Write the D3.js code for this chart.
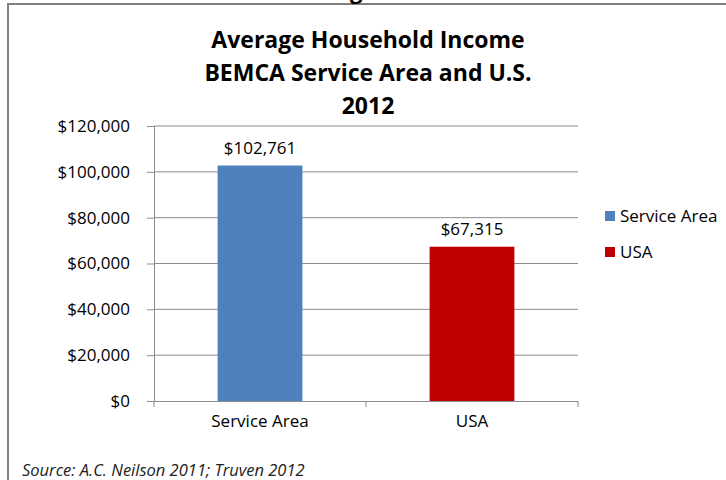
<!DOCTYPE html>
<html>
<head>
<meta charset="utf-8">
<script src="https://cdn.jsdelivr.net/npm/d3@7"></script>
<style>
  body { margin: 0; background: #fff; }
  svg { display: block; font-family: "Open Sans", sans-serif; }
</style>
</head>
<body>
<div id="plot"></div>
<script>
// chart values
const categories = ["Service Area", "USA"];
const incomes = [102761, 67315];
const barColors = ["#4F81BD", "#C00000"];
const yTicks = [0, 20000, 40000, 60000, 80000, 100000, 120000];
const titleLines = ["Average Household Income", "BEMCA Service Area and U.S.", "2012"];
const sourceNote = "Source: A.C. Neilson 2011; Truven 2012";

const W = 726, H = 480;
const margin = { top: 126, right: 148, bottom: 79, left: 154 },
      width = W - margin.left - margin.right,
      height = H - margin.top - margin.bottom;
const fontFam = "'Open Sans', sans-serif";

const svg = d3.select("div#plot")
              .append("svg")
              .attr("width", W)
              .attr("height", H);

// frame of the surrounding box
svg.append("path")
   .attr("d", `M8,${H} L8,4 L${W},4`)
   .attr("fill", "none")
   .attr("stroke", "#7f7f7f")
   .attr("stroke-width", 2);

// cut-off text above the box (only the descender shows)
svg.append("text")
   .attr("x", 350)
   .attr("y", -1)
   .style("font-size", "22px")
   .style("font-weight", "bold")
   .text("g");

// title
svg.selectAll(".title")
   .data(titleLines)
   .enter()
   .append("text")
   .attr("class", "title")
   .attr("x", 368)
   .attr("y", (d, i) => 48 + i * 33)
   .attr("text-anchor", "middle")
   .style("font-size", "23px")
   .style("font-weight", "bold")
   .text(d => d);

const g = svg.append("g")
             .attr("transform", `translate(${margin.left},${margin.top})`);

const xScale = d3.scaleBand().domain(categories).range([0, width]).padding(0);
const yScale = d3.scaleLinear().domain([0, 120000]).range([height, 0]);

// gridlines
g.selectAll(".grid")
 .data(yTicks.filter(t => t > 0))
 .enter()
 .append("line")
 .attr("x1", 0)
 .attr("x2", width)
 .attr("y1", d => yScale(d))
 .attr("y2", d => yScale(d))
 .attr("stroke", "#8c8c8c")
 .attr("stroke-width", 1);

// y axis
const yAxis = g.append("g")
  .call(d3.axisLeft(yScale).tickValues(yTicks).tickSize(7).tickPadding(17)
          .tickFormat(d => "$" + d3.format(",")(d)));
yAxis.attr("font-family", fontFam);
yAxis.select(".domain").attr("stroke", "#8c8c8c");
yAxis.selectAll(".tick line").attr("stroke", "#8c8c8c");
yAxis.selectAll("text").style("font-size", "17px").attr("fill", "#000");

// x axis
const xAxis = g.append("g")
  .attr("transform", `translate(0,${height})`)
  .call(d3.axisBottom(xScale).tickSize(0).tickPadding(14));
xAxis.attr("font-family", fontFam);
xAxis.select(".domain").attr("stroke", "#8c8c8c");
xAxis.selectAll("text").style("font-size", "17px").attr("fill", "#000");
xAxis.selectAll(".bound")
     .data([0, width / 2, width])
     .enter()
     .append("line")
     .attr("class", "bound")
     .attr("x1", d => d).attr("x2", d => d)
     .attr("y1", 0).attr("y2", 6)
     .attr("stroke", "#8c8c8c");

// bars
const barW = xScale.bandwidth() * 0.4;
g.selectAll(".bar")
 .data(incomes)
 .enter()
 .append("rect")
 .attr("class", "bar")
 .attr("x", (d, i) => xScale(categories[i]) + (xScale.bandwidth() - barW) / 2)
 .attr("y", d => yScale(d))
 .attr("width", barW)
 .attr("height", d => height - yScale(d))
 .attr("fill", (d, i) => barColors[i]);

// data labels
g.selectAll(".lbl")
 .data(incomes)
 .enter()
 .append("text")
 .attr("class", "lbl")
 .attr("x", (d, i) => xScale(categories[i]) + xScale.bandwidth() / 2)
 .attr("y", d => yScale(d) - 12)
 .attr("text-anchor", "middle")
 .style("font-size", "17px")
 .text(d => "$" + d3.format(",")(d));

// legend
const legend = svg.append("g")
                  .attr("transform", "translate(605,211)");
legend.selectAll("rect")
      .data(categories)
      .enter()
      .append("rect")
      .attr("x", 0)
      .attr("y", (d, i) => i * 36)
      .attr("width", 10)
      .attr("height", 10)
      .attr("fill", (d, i) => barColors[i]);
legend.selectAll("text")
      .data(categories)
      .enter()
      .append("text")
      .attr("x", 15)
      .attr("y", (d, i) => i * 36 + 5)
      .attr("dy", "0.35em")
      .style("font-size", "17px")
      .text(d => d);

// source note
svg.append("text")
   .attr("x", 22)
   .attr("y", 476)
   .style("font-size", "16.5px")
   .style("font-style", "italic")
   .attr("fill", "#222")
   .text(sourceNote);
</script>
</body>
</html>
